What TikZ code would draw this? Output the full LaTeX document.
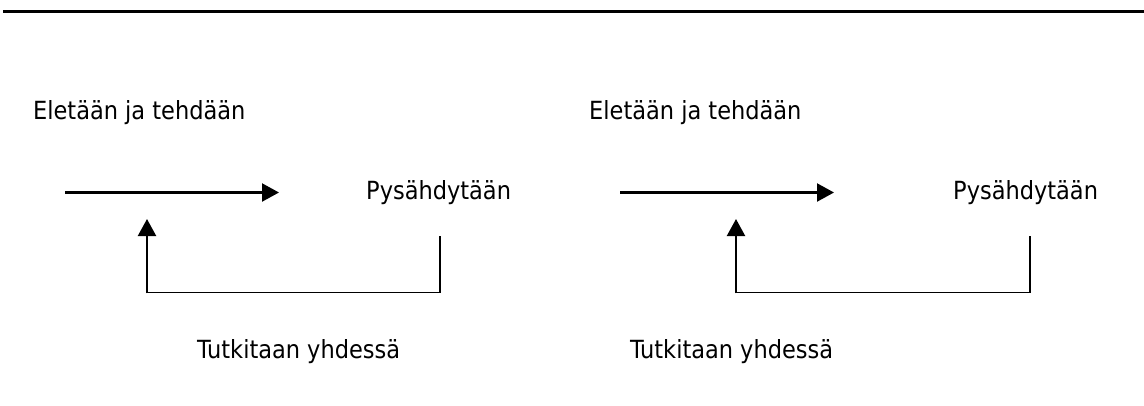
\documentclass[tikz,border=0pt]{standalone}
\usepackage{fontspec}
\setmainfont{DejaVu Sans Condensed}
\usetikzlibrary{arrows.meta}
\begin{document}
\begin{tikzpicture}[x=1pt,y=-1pt,
  lbl/.style={anchor=base west,inner sep=0pt,font=\fontsize{25}{30}\selectfont},
  flow/.style={line width=2.2pt,-{Triangle[length=17pt,width=18pt]}},
  back/.style={line width=1.9pt},
  rule/.style={line width=3pt}]
\useasboundingbox (0,0) rectangle (1144,405);
% heading rule
\coordinate (r1) at (3,11);
\coordinate (r2) at (1144,11);
\draw[rule] (r1) -- (r2);

% ---- left cycle ----
\node[lbl] (e1) at (33,119) {Eletään ja tehdään};
\node[lbl] (p1) at (366,199) {Pysähdytään};
\node[lbl] (t1) at (197,358) {Tutkitaan yhdessä};
\coordinate (a1s) at (65,192.5);
\coordinate (a1e) at (279,192.5);
\draw[flow] (a1s) -- (a1e);
\coordinate (b1r) at (440,236);
\coordinate (b1l) at (147,219);
\draw[back] (b1r) -- (440,292.5) -- (147,292.5);
\draw[flow] (147,293.4) -- (b1l);

% ---- right cycle ----
\node[lbl] (e2) at (589,119) {Eletään ja tehdään};
\node[lbl] (p2) at (953,199) {Pysähdytään};
\node[lbl] (t2) at (630,358) {Tutkitaan yhdessä};
\coordinate (a2s) at (620,192.5);
\coordinate (a2e) at (834,192.5);
\draw[flow] (a2s) -- (a2e);
\coordinate (b2r) at (1030,236);
\coordinate (b2l) at (736,219);
\draw[back] (b2r) -- (1030,292.5) -- (736,292.5);
\draw[flow] (736,293.4) -- (b2l);
\end{tikzpicture}
\end{document}
